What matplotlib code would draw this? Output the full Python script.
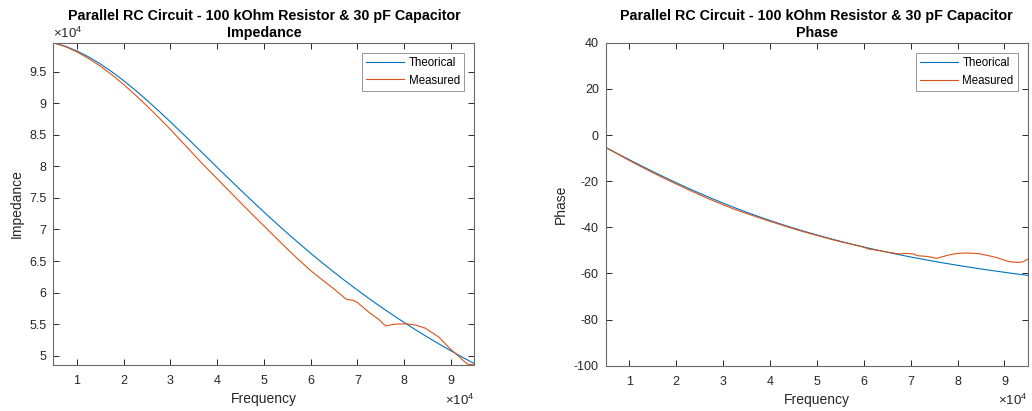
import matplotlib
matplotlib.use('Agg')
import matplotlib.pyplot as plt
from matplotlib.ticker import FuncFormatter

plt.rcParams['font.family'] = ['Liberation Sans', 'DejaVu Sans']
plt.rcParams['mathtext.fontset'] = 'custom'
plt.rcParams['mathtext.rm'] = 'Liberation Sans'
plt.rcParams['axes.unicode_minus'] = False

# datos
freq_teo = [5000, 7500, 10000, 12500, 15000, 17500, 20000, 22500, 25000, 27500,
            30000, 32500, 35000, 37500, 40000, 42500, 45000, 47500, 50000, 52500,
            55000, 57500, 60000, 62500, 65000, 67500, 70000, 72500, 75000, 77500,
            80000, 82500, 85000, 87500, 90000, 92500, 95000]
imp_teo = [99559, 99016, 98270, 97334, 96228, 94967, 93572, 92063, 90459, 88781,
           87046, 85271, 83471, 81659, 79847, 78045, 76261, 74501, 72773, 71079,
           69424, 67810, 66240, 64713, 63231, 61794, 60401, 59053, 57748, 56487,
           55267, 54087, 52947, 51845, 50780, 49751, 48756]
fase_teo = [-5.38, -8.05, -10.67, -13.26, -15.79, -18.26, -20.66, -22.98, -25.23, -27.40,
            -29.49, -31.49, -33.42, -35.26, -37.02, -38.70, -40.31, -41.84, -43.30, -44.70,
            -46.03, -47.30, -48.52, -49.67, -50.78, -51.83, -52.84, -53.80, -54.73, -55.61,
            -56.45, -57.26, -58.03, -58.77, -59.48, -60.17, -60.82]

freq_imp_med = [5000, 7500, 10000, 12500, 15000, 17500, 20000, 22500, 25000, 27500,
                30000, 32500, 35000, 37500, 40000, 42500, 45000, 47500, 50000, 52500,
                55000, 57500, 60000, 62500, 65000, 67500, 68000, 69000, 70000, 72500,
                74500, 76000, 78000, 80500, 82500, 84500, 87500, 89500, 91500, 93500, 95000]
imp_med = [99559, 98970, 98120, 97080, 95880, 94490, 92970, 91310, 89560, 87730,
           85850, 83870, 81870, 79910, 78050, 76150, 74260, 72400, 70570, 68730,
           66920, 65160, 63490, 62010, 60580, 59010, 58900, 58800, 58440, 56860,
           55800, 54740, 55010, 55060, 54850, 54380, 52910, 51330, 50000, 48690, 48550]

freq_fase_med = [5000, 7500, 10000, 12500, 15000, 17500, 20000, 22500, 25000, 27500,
                 30000, 32500, 35000, 37500, 40000, 42500, 45000, 47500, 50000, 52500,
                 55000, 57500, 60000, 61000, 62500, 65000, 67500, 69000, 70500, 71500,
                 73500, 75600, 77000, 78500, 80000, 82000, 84500, 86500, 88500, 90500,
                 91500, 93000, 94000, 95000]
fase_med = [-5.4, -8.2, -11.0, -13.7, -16.3, -18.8, -21.2, -23.6, -25.9, -28.1,
            -30.2, -32.2, -34.0, -35.7, -37.4, -39.0, -40.6, -42.1, -43.5, -44.9,
            -46.2, -47.4, -48.6, -49.4, -49.8, -50.7, -51.5, -51.3, -51.5, -52.3,
            -52.6, -53.4, -52.6, -51.8, -51.3, -51.1, -51.4, -52.2, -53.2, -54.6,
            -55.0, -55.2, -54.9, -53.8]

titulo = 'Parallel RC Circuit - 100 kOhm Resistor & 30 pF Capacitor'
azul = '#0072BD'
naranja = '#D95319'
gris = '#262626'

fig = plt.figure(figsize=(10.32, 4.11), dpi=100)
ax1 = fig.add_axes([0.0517, 0.112, 0.408, 0.784])
ax2 = fig.add_axes([0.587, 0.110, 0.409, 0.786])

def estilo(ax, subtitulo):
    ax.tick_params(direction='in', length=4, width=0.7, colors=gris, labelsize=9,
                   top=True, right=True)
    ax.tick_params(axis='x', pad=7)
    ax.tick_params(axis='y', pad=5)
    for s in ax.spines.values():
        s.set_color('#6a6a6a')
        s.set_linewidth(0.8)
    ax.set_xlim(5000, 95000)
    ax.set_xticks([10000, 20000, 30000, 40000, 50000, 60000, 70000, 80000, 90000])
    ax.xaxis.set_major_formatter(FuncFormatter(lambda v, p: '%g' % (v / 1e4)))
    ax.set_xlabel('Frequency', fontsize=10, color=gris, labelpad=4)
    ax.text(1.0, -0.085, r'$\times\mathregular{10^4}$', transform=ax.transAxes,
            ha='right', va='top', fontsize=9.5, color=gris)
    # titulo en dos lineas: la segunda como title, la primera encima
    ax.set_title(subtitulo, fontsize=10.3, fontweight='bold', pad=4)
    ax.annotate(titulo, xy=(0.5, 1.0), xycoords='axes fraction',
                xytext=(0, 16.3), textcoords='offset points', ha='center',
                va='baseline', fontsize=10.3, fontweight='bold')
    leg = ax.legend(loc='upper right', fontsize=8.3, frameon=True, fancybox=False,
                    edgecolor='#7a7a7a', handlelength=3.3, borderpad=0.35,
                    labelspacing=0.5, borderaxespad=0, bbox_to_anchor=(0.976, 0.969),
                    handletextpad=0.4)
    leg.get_frame().set_linewidth(0.7)

# impedancia
ax1.plot(freq_teo, imp_teo, color=azul, lw=0.8, label='Theorical')
ax1.plot(freq_imp_med, imp_med, color=naranja, lw=0.8, label='Measured')
ax1.set_ylim(min(imp_med + imp_teo), max(imp_med + imp_teo))
ax1.set_yticks([50000, 55000, 60000, 65000, 70000, 75000, 80000, 85000, 90000, 95000])
ax1.yaxis.set_major_formatter(FuncFormatter(lambda v, p: '%g' % (v / 1e4)))
ax1.set_ylabel('Impedance', fontsize=10, color=gris, labelpad=4)
ax1.text(0.0, 1.006, r'$\times\mathregular{10^4}$', transform=ax1.transAxes,
         ha='left', va='bottom', fontsize=9.5, color=gris)
estilo(ax1, 'Impedance')

# fase
ax2.plot(freq_teo, fase_teo, color=azul, lw=0.8, label='Theorical')
ax2.plot(freq_fase_med, fase_med, color=naranja, lw=0.8, label='Measured')
ax2.set_ylim(-100, 40)
ax2.set_yticks([-100, -80, -60, -40, -20, 0, 20, 40])
ax2.set_ylabel('Phase', fontsize=10, color=gris, labelpad=4)
estilo(ax2, 'Phase')

fig.savefig('out.png', dpi=100)
